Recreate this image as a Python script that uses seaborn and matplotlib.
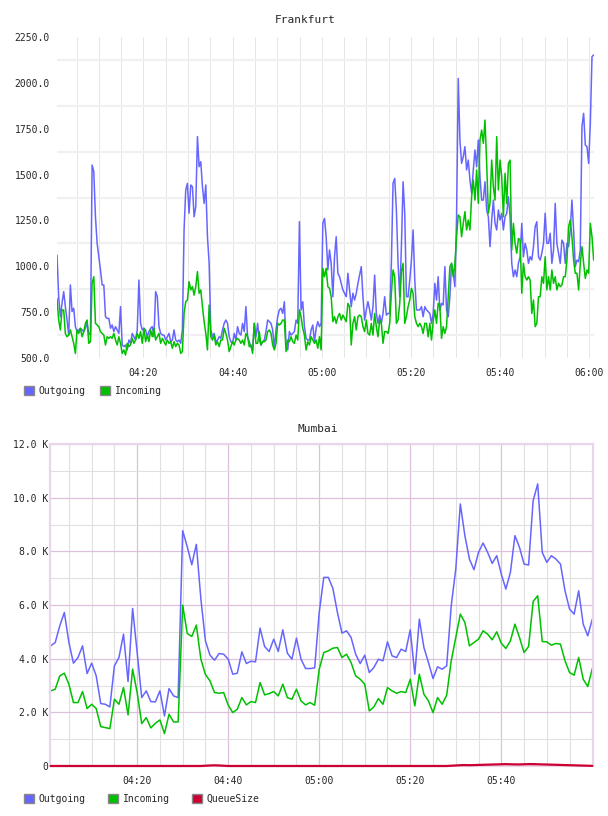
import numpy as np
import pandas as pd
import seaborn as sns
import matplotlib.pyplot as plt
import matplotlib.dates as mdates
from matplotlib.patches import Patch

sns.set_style("white")
plt.rcParams["font.family"] = ["DejaVu Sans Mono"]

# Frankfurt: samples every 22.5 s starting 04:00:36
fra_out = [
    1061, 834, 725, 798, 862, 780, 707, 625, 898, 753,
    771, 671, 644, 653, 662, 653, 644, 662, 689, 634,
    625, 1552, 1516, 1270, 1125, 1052, 980, 898, 898, 725,
    716, 716, 662, 680, 644, 671, 653, 634, 780, 571,
    562, 571, 544, 598, 580, 634, 616, 598, 653, 925,
    689, 653, 662, 653, 616, 644, 662, 671, 616, 862,
    834, 671, 634, 625, 625, 598, 616, 634, 589, 598,
    653, 598, 589, 598, 580, 653, 1198, 1416, 1452, 1289,
    1443, 1434, 1270, 1325, 1707, 1543, 1570, 1434, 1343, 1443,
    1161, 1016, 653, 616, 634, 589, 598, 616, 607, 653,
    689, 707, 689, 616, 589, 580, 634, 598, 671, 634,
    625, 689, 644, 780, 616, 589, 562, 544, 689, 616,
    689, 598, 571, 589, 598, 644, 707, 698, 689, 653,
    553, 653, 725, 762, 771, 743, 807, 562, 544, 644,
    625, 634, 644, 707, 689, 1243, 762, 807, 671, 607,
    598, 598, 653, 680, 589, 662, 698, 671, 689, 1234,
    1261, 1161, 980, 1089, 1016, 834, 1052, 1161, 962, 943,
    907, 871, 853, 834, 962, 871, 780, 853, 816, 853,
    907, 952, 998, 834, 707, 762, 807, 762, 707, 780,
    952, 743, 689, 734, 689, 743, 834, 734, 743, 743,
    1016, 1452, 1479, 1307, 1016, 834, 1107, 1461, 1289, 834,
    834, 925, 1034, 1198, 925, 762, 762,
    762, 780, 725, 780, 762, 753, 743, 689, 743, 907,
    816, 943, 762, 798, 789, 998, 762, 725, 834, 1016,
    962, 889, 1270, 2024, 1688, 1561, 1597, 1652, 1525, 1579,
    1470, 1398, 1525, 1634, 1543, 1688, 1488, 1361, 1361, 1461,
    1307, 1270, 1107, 1252, 1361, 1234, 1198, 1307, 1252, 1289,
    1198, 1270, 1289, 1379, 1270, 1016, 943, 980, 943, 1016,
    1052, 1234, 1052, 1125, 1089, 1016, 1052, 1034, 1107, 1216,
    1243, 1052, 1034, 1071, 1125, 1289, 1125, 1125, 1180, 1016,
    1089, 1343, 1125, 1071, 1016, 1143, 1125, 1016, 1125, 1107,
    1198, 1361, 1198, 998, 1034, 1025, 1089, 1761, 1834, 1661,
    1652, 1561, 1779, 2143, 2152,
]
fra_in = [
    825, 707, 653, 762, 762, 634, 616, 625, 653, 616,
    580, 525, 653, 634, 662, 616, 644, 689, 707, 580,
    589, 907, 943, 689, 680, 671, 644, 634, 625, 571,
    616, 607, 616, 607, 634, 598, 571, 616, 580, 525,
    544, 516, 580, 562, 571, 607, 580, 598, 634, 607,
    644, 580, 662, 589, 625, 589, 653, 616, 662, 598,
    616, 634, 580, 607, 589, 571, 598, 580, 589, 553,
    589, 562, 580, 571, 525, 535, 743, 807, 816, 916,
    871, 889, 843, 889, 971, 853, 871, 780, 698, 634,
    544, 789, 616, 598, 625, 571, 589, 562, 598, 598,
    662, 634, 598, 535, 562, 589, 571, 598, 607, 598,
    580, 598, 571, 634, 616, 562, 571, 525, 689, 580,
    580, 644, 571, 589, 589, 598, 644, 653, 634, 571,
    544, 580, 689, 680, 689, 707, 707, 535, 598, 589,
    616, 589, 580, 625, 598, 762, 725, 662, 625, 544,
    589, 571, 616, 598, 580, 598, 553, 616, 544, 989,
    943, 989, 889, 880, 834, 698, 725, 689, 725, 743,
    707, 734, 716, 698, 798, 780, 571, 689, 725, 653,
    725, 734, 725, 671, 644, 707, 634, 625, 689, 625,
    743, 671, 616, 707, 689, 580, 644, 644, 634, 689,
    853, 980, 943, 689, 707, 798, 971, 1016, 689, 725,
    780, 816, 880, 853, 725, 689, 671,
    689, 671, 634, 689, 689, 616, 689, 598, 698, 762,
    689, 798, 780, 607, 671, 634, 671, 834, 998, 1016,
    943, 1016, 1161, 1280, 1270, 1161, 1234, 1298, 1198, 1252,
    1198, 1379, 1470, 1361, 1525, 1343, 1688, 1743, 1670, 1797,
    1561, 1289, 1343, 1579, 1434, 1361, 1707, 1416, 1579, 1488,
    1270, 1507, 1343, 1561, 1579, 1089, 1234, 1125, 1071, 1152,
    1143, 853, 1016, 943, 925, 943, 925, 743, 816, 671,
    689, 834, 834, 943, 907, 1052, 871, 943, 871, 980,
    907, 943, 871, 907, 889, 898, 943, 943, 1034, 1216,
    1252, 1161, 1034, 962, 962, 871, 1016, 1107, 1016, 934,
    980, 962, 1234, 1161, 1034,
]

# Mumbai: one sample per minute from 04:01
mum_out = [
    4478, 4603, 5225, 5722, 4603, 3832, 4043, 4478, 3446, 3832,
    3359, 2326, 2301, 2202, 3732, 4043, 4914, 3147, 5872, 4230,
    2550, 2799, 2401, 2388, 2799, 1866, 2886, 2612, 2550, 8770,
    8173, 7501, 8260, 6220, 4665, 4130, 3943, 4192, 4167, 3981,
    3421, 3458, 4254, 3819, 3906, 3881, 5138, 4454, 4267, 4727,
    4267, 5076, 4205, 3981, 4765, 3981, 3632, 3632, 3657, 5722,
    7029, 7029, 6618, 5722, 4951, 5038, 4789, 4167, 3819, 4130,
    3483, 3670, 3981, 3919, 4628, 4105, 4043, 4354, 4267, 5076,
    3421, 5474, 4416, 3856, 3259, 3695, 3608, 3732, 5971, 7340,
    9765, 8584, 7713, 7315, 7962, 8310, 7962, 7551, 7837, 7153,
    6593, 7215, 8584, 8148, 7526, 7489, 9890, 10512, 7962, 7588,
    7837, 7713, 7526, 6531, 5847, 5660, 6531, 5287, 4852, 5474,
]
mum_in = [
    2799, 2861, 3359, 3458, 3048, 2364, 2364, 2774, 2140, 2301,
    2140, 1468, 1431, 1393, 2488, 2301, 2923, 1903, 3608, 2737,
    1580, 1804, 1418, 1592, 1717, 1207, 1928, 1642, 1642, 5996,
    4939, 4827, 5250, 3981, 3409, 3172, 2737, 2712, 2737, 2270,
    1990, 2115, 2550, 2277, 2401, 2364, 3110, 2650, 2699, 2774,
    2612, 3048, 2550, 2488, 2861, 2426, 2277, 2364, 2264, 3608,
    4230, 4292, 4391, 4416, 4043, 4167, 3856, 3359, 3234, 3048,
    2053, 2202, 2513, 2301, 2923, 2799, 2712, 2774, 2737, 3234,
    2239, 3421, 2675, 2426, 1990, 2550, 2301, 2637, 3919, 4789,
    5660, 5349, 4478, 4603, 4727, 5038, 4914, 4702, 5001, 4578,
    4379, 4665, 5287, 4789, 4230, 4454, 6133, 6344, 4640, 4628,
    4503, 4565, 4541, 3919, 3483, 3384, 4043, 3234, 2961, 3632,
]
mum_queue = [
    0, 0, 0, 0, 0, 0, 0, 0, 0, 0,
    0, 0, 0, 0, 0, 0, 0, 0, 0, 0,
    0, 0, 0, 0, 0, 0, 0, 0, 0, 0,
    0, 0, 0, 0, 10, 20, 25, 20, 10, 0,
    0, 0, 0, 0, 0, 0, 0, 0, 0, 0,
    0, 0, 0, 0, 0, 0, 0, 0, 0, 0,
    0, 0, 0, 0, 0, 0, 0, 0, 0, 0,
    0, 0, 0, 0, 0, 0, 0, 0, 0, 0,
    0, 0, 0, 0, 0, 0, 0, 0, 10, 20,
    30, 35, 30, 35, 40, 45, 50, 55, 60, 65,
    70, 65, 60, 60, 65, 70, 70, 65, 60, 55,
    50, 45, 40, 35, 30, 25, 20, 15, 10, 5,
]

BLUE = "#6666ff"
GREEN = "#00c000"
RED = "#cc0033"
GRID = "#e6e6e6"
PINK = "#dcc0dc"

day = pd.Timestamp("2024-01-01")


def at(h, m, s=0):
    return day + pd.Timedelta(hours=h, minutes=m, seconds=s)


def num(ts):
    return mdates.date2num(pd.Timestamp(ts).to_pydatetime())


fra_time = pd.date_range(at(4, 0, 36), periods=len(fra_out), freq="22500ms")
mum_time = pd.date_range(at(4, 1), periods=len(mum_out), freq="1min")

fra = pd.concat([
    pd.DataFrame({"time": fra_time, "value": fra_out, "series": "Outgoing"}),
    pd.DataFrame({"time": fra_time, "value": fra_in, "series": "Incoming"}),
])
mum = pd.concat([
    pd.DataFrame({"time": mum_time, "value": mum_out, "series": "Outgoing"}),
    pd.DataFrame({"time": mum_time, "value": mum_in, "series": "Incoming"}),
    pd.DataFrame({"time": mum_time, "value": mum_queue, "series": "QueueSize"}),
])
palette = {"Outgoing": BLUE, "Incoming": GREEN, "QueueSize": RED}

fig = plt.figure(figsize=(6.08, 8.16), dpi=100)
ax1 = fig.add_axes([57 / 608, 1 - 358 / 816, 537 / 608, 321 / 816])
ax2 = fig.add_axes([50 / 608, 1 - 766 / 816, 543 / 608, 322 / 816])

# %% Frankfurt
sns.lineplot(data=fra, x="time", y="value", hue="series", hue_order=["Outgoing", "Incoming"],
             palette=palette, estimator=None, linewidth=1.1, legend=False, ax=ax1)
ax1.set_xlim(num(at(4, 0, 36)), num(at(6, 1, 3)))
ax1.set_ylim(500, 2250)
ax1.set_xticks([num(at(4, 0) + pd.Timedelta(minutes=k)) for k in range(20, 121, 20)])
ax1.set_xticks([num(at(4, 0) + pd.Timedelta(minutes=k)) for k in range(5, 121, 5)], minor=True)
ax1.xaxis.set_major_formatter(mdates.DateFormatter("%H:%M"))
yt = np.arange(500, 2251, 250)
ax1.set_yticks(yt)
ax1.set_yticklabels([f"{v:.1f}" for v in yt])
ax1.set_yticks(np.arange(625, 2250, 250), minor=True)
ax1.grid(False)
ax1.yaxis.grid(True, which="minor", color="#f0f0f0", linewidth=1.6)
ax1.xaxis.grid(True, which="both", color=GRID, linewidth=0.7)
ax1.set_axisbelow(True)
sns.despine(ax=ax1, left=True, bottom=True)
ax1.tick_params(which="both", length=0, labelsize=7)
ax1.tick_params(axis="y", pad=5)
ax1.tick_params(axis="x", pad=7)
ax1.set_xlabel("")
ax1.set_ylabel("")
fig.text(305 / 608, 1 - 20 / 816, "Frankfurt", ha="center", va="center", fontsize=8)
ax1.legend(handles=[Patch(facecolor=BLUE, edgecolor="#888888", label="Outgoing"),
                    Patch(facecolor=GREEN, edgecolor="#888888", label="Incoming")],
           loc="upper left", bbox_to_anchor=(24 / 608, 1 - 386 / 816), bbox_transform=fig.transFigure,
           ncol=2, frameon=False, fontsize=7, handlelength=1.0, handleheight=1.1,
           handletextpad=0.5, columnspacing=1.5, borderpad=0, borderaxespad=0)

# %% Mumbai
sns.lineplot(data=mum, x="time", y="value", hue="series", hue_order=["Outgoing", "Incoming", "QueueSize"],
             palette=palette, estimator=None, linewidth=1.1, legend=False, ax=ax2)
for ln in ax2.lines:
    ln.set_clip_on(False)
ax2.lines[-1].set_zorder(3)
ax2.lines[-1].set_linewidth(1.6)
ax2.set_xlim(num(at(4, 0, 51)), num(at(6, 0, 9)))
ax2.set_ylim(0, 12000)
ax2.set_xticks([num(at(4, 0) + pd.Timedelta(minutes=k)) for k in range(20, 101, 20)])
ax2.set_xticks([num(at(4, 0) + pd.Timedelta(minutes=k)) for k in range(5, 121, 5) if k % 20], minor=True)
ax2.xaxis.set_major_formatter(mdates.DateFormatter("%H:%M"))
yt2 = np.arange(0, 12001, 2000)
ax2.set_yticks(yt2)
ax2.set_yticklabels(["0"] + [f"{v / 1000:.1f} K" for v in yt2[1:]])
ax2.set_yticks(np.arange(1000, 12000, 2000), minor=True)
ax2.grid(False)
ax2.grid(True, which="minor", color="#e0e0e0", linewidth=0.8)
ax2.grid(True, which="major", color=PINK, linewidth=0.9)
ax2.set_axisbelow(True)
for sp in ax2.spines.values():
    sp.set_color("#ead6ea")
    sp.set_linewidth(1.6)
ax2.tick_params(which="both", length=0, labelsize=7)
ax2.tick_params(axis="y", pad=1)
ax2.tick_params(axis="x", pad=7)
ax2.set_xlabel("")
ax2.set_ylabel("")
fig.text(318 / 608, 1 - 429 / 816, "Mumbai", ha="center", va="center", fontsize=8)
ax2.legend(handles=[Patch(facecolor=BLUE, edgecolor="#888888", label="Outgoing"),
                    Patch(facecolor=GREEN, edgecolor="#888888", label="Incoming"),
                    Patch(facecolor=RED, edgecolor="#888888", label="QueueSize")],
           loc="upper left", bbox_to_anchor=(24 / 608, 1 - 794 / 816), bbox_transform=fig.transFigure,
           ncol=3, frameon=False, fontsize=7, handlelength=1.0, handleheight=1.1,
           handletextpad=0.5, columnspacing=2.3, borderpad=0, borderaxespad=0)

fig.savefig("out.png", dpi=100)
